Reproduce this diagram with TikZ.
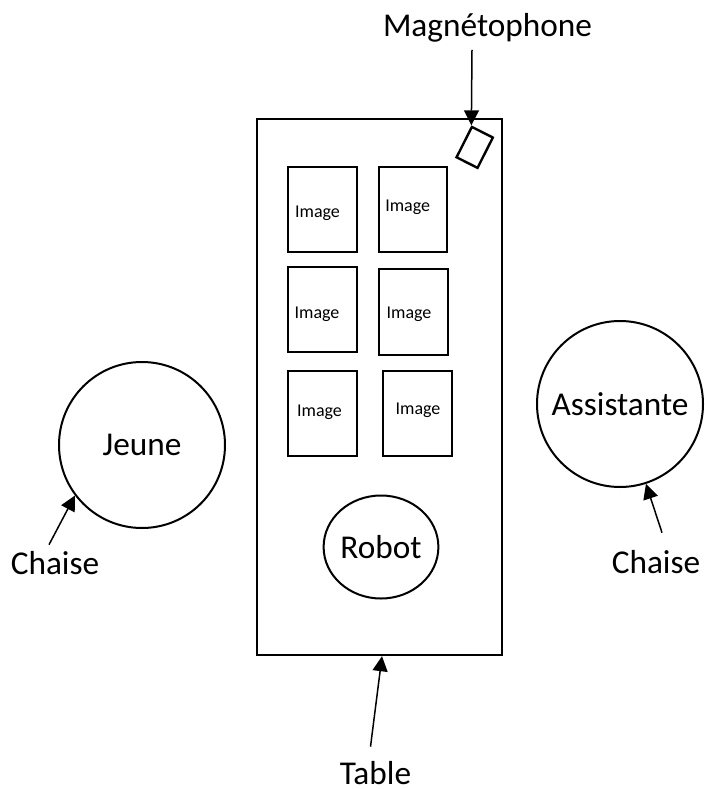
\documentclass[tikz,border=0pt]{standalone}
\usepackage{fontspec}
\setmainfont{Carlito}
\usetikzlibrary{arrows.meta,shapes.geometric}

\tikzset{
  bigtext/.style={font=\fontsize{33.3}{40}\selectfont, inner sep=0pt, anchor=base},
  smalltext/.style={font=\fontsize{18}{22}\selectfont, inner sep=0pt, anchor=base},
  seat/.style={circle, draw, line width=2pt, minimum size=166pt, inner sep=0pt,
               font=\fontsize{33.3}{40}\selectfont},
  card/.style={rectangle, draw, line width=2.4pt, inner sep=0pt},
  pointer/.style={line width=1.5pt, -{Triangle[length=15pt,width=15pt]}},
}

\begin{document}
\begin{tikzpicture}[x=1pt, y=-1pt]
  \useasboundingbox (0,0) rectangle (704,789);

  % table and recorder
  \node[draw, line width=2.4pt, minimum width=245pt, minimum height=536pt, inner sep=0pt]
    (table) at (379.5,387) {};
  \node[draw, line width=2.4pt, minimum width=23.5pt, minimum height=34pt, inner sep=0pt,
        rotate=-26.8] (recorder) at (474.7,147.4) {};

  % picture cards
  \node[card, minimum width=69pt, minimum height=85pt] (c1) at (322.5,209.5) {};
  \node[card, minimum width=68pt, minimum height=85pt] (c2) at (413,209.5) {};
  \node[card, minimum width=69pt, minimum height=85pt] (c3) at (322.5,309.5) {};
  \node[card, minimum width=69pt, minimum height=86pt] (c4) at (413.5,312) {};
  \node[card, minimum width=69pt, minimum height=85pt] (c5) at (322.5,413.5) {};
  \node[card, minimum width=69pt, minimum height=85pt] (c6) at (417.5,413.5) {};
  \node[smalltext] (t1) at (317.5,217) {Image};
  \node[smalltext] (t2) at (407.7,211) {Image};
  \node[smalltext] (t3) at (317,318.5) {Image};
  \node[smalltext] (t4) at (409,318) {Image};
  \node[smalltext] (t5) at (319.5,416) {Image};
  \node[smalltext] (t6) at (418,414) {Image};

  % robot and seats
  \node[ellipse, draw, line width=2pt, minimum width=108pt, minimum height=103pt,
        inner sep=0pt, font=\fontsize{33.3}{40}\selectfont] (robot) at (381,547) {Robot};
  \node[seat] (jeune) at (142,445) {Jeune};
  \node[seat] (assist) at (620,404) {Assistante};

  % labels
  \node[bigtext] (lmag) at (487.5,37) {Magnétophone};
  \node[bigtext] (lchaiseL) at (55,574) {Chaise};
  \node[bigtext] (lchaiseR) at (656,573) {Chaise};
  \node[bigtext] (ltable) at (375.5,784) {Table};

  % pointers
  \draw[pointer] ([xshift=-15.5pt,yshift=-7pt]lmag.south) -- (recorder.north west);
  \draw[pointer] ([xshift=-6pt,yshift=6pt]lchaiseL.north) -- (jeune.217);
  \draw[pointer] ([xshift=6pt,yshift=17pt]lchaiseR.north) -- (assist.288);
  \draw[pointer] ([xshift=-5pt,yshift=14pt]ltable.north) -- ([xshift=2.5pt]table.south);
\end{tikzpicture}
\end{document}
